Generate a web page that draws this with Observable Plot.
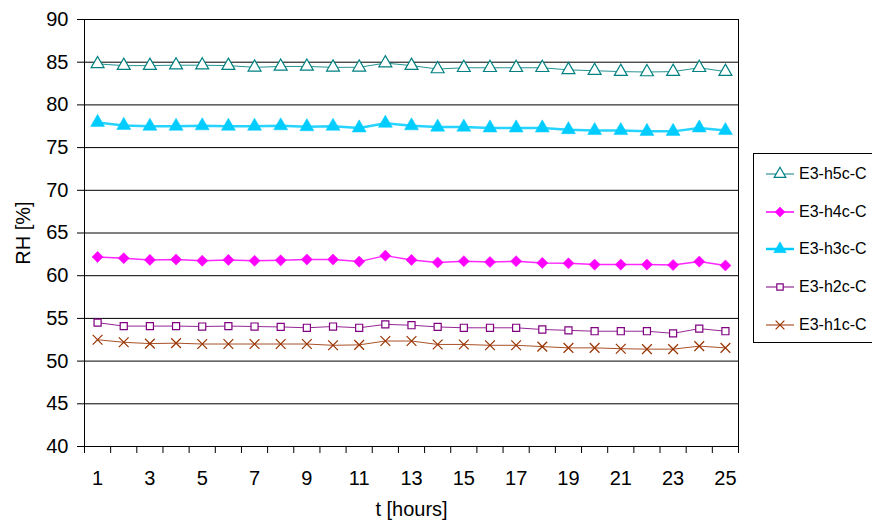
<!DOCTYPE html>
<html>
<head>
<meta charset="utf-8">
<script src="https://cdn.jsdelivr.net/npm/d3@7"></script>
<script src="https://cdn.jsdelivr.net/npm/@observablehq/plot@0.6"></script>
<style>
  html, body { margin: 0; padding: 0; background: #fff; width: 872px; height: 530px; overflow: hidden; }
  #wrap { position: relative; width: 872px; height: 530px; font-family: "Liberation Sans", Arial, sans-serif; }
  #legend { position: absolute; left: 753px; top: 153px; width: 140px; height: 190px; border: 1px solid #000; background: #fff; box-sizing: border-box; }
  .item { position: absolute; left: 12px; height: 20px; display: flex; align-items: center; font-size: 16px; color: #000; white-space: nowrap; }
  .item svg { margin-right: 5px; }
</style>
</head>
<body>
<div id="wrap"><div id="legend"></div></div>
<script>
const hours = [1,2,3,4,5,6,7,8,9,10,11,12,13,14,15,16,17,18,19,20,21,22,23,24,25];
const xTickLabels = [1,3,5,7,9,11,13,15,17,19,21,23,25];
const yTicks = [40,45,50,55,60,65,70,75,80,85,90];

const seriesNames = ["E3-h5c-C","E3-h4c-C","E3-h3c-C","E3-h2c-C","E3-h1c-C"];
const h5 = [84.8,84.6,84.6,84.65,84.65,84.6,84.4,84.5,84.5,84.4,84.4,84.9,84.6,84.2,84.35,84.35,84.35,84.35,84.1,84.0,83.9,83.85,83.9,84.35,83.9];
const h4 = [62.2,62.05,61.85,61.9,61.75,61.85,61.75,61.8,61.9,61.9,61.65,62.35,61.85,61.55,61.7,61.6,61.7,61.5,61.45,61.3,61.3,61.3,61.25,61.65,61.2];
const h3 = [77.95,77.6,77.5,77.5,77.55,77.5,77.5,77.55,77.45,77.5,77.3,77.85,77.55,77.4,77.4,77.3,77.3,77.3,77.1,77.0,77.0,76.9,76.9,77.3,77.0];
const h2 = [54.5,54.1,54.1,54.1,54.05,54.1,54.05,54.0,53.9,54.05,53.9,54.3,54.2,54.0,53.9,53.9,53.9,53.7,53.6,53.5,53.5,53.5,53.25,53.8,53.5];
const h1 = [52.5,52.2,52.05,52.1,52.0,52.0,52.0,52.0,52.0,51.85,51.9,52.35,52.35,51.95,51.95,51.85,51.85,51.7,51.55,51.55,51.45,51.4,51.4,51.75,51.55];

const seriesValues = [h5, h4, h3, h2, h1];
const seriesColors = ["#008080","#FF00FF","#00CCFF","#800080","#993300"];
const seriesSymbols = ["triangle","diamond2","triangle","square2","times"];
const seriesFilled = [false, true, true, false, false];
const seriesLineWidth = [1, 1.5, 2.5, 1, 1];
const seriesR = [4.8, 5, 5.2, 4.5, 4.5];

const edges = hours.map(h => h - 0.5).concat([hours[hours.length-1] + 0.5]);

const marks = [];
marks.push(Plot.ruleY(yTicks, {stroke: "#000", strokeWidth: 1}));
seriesNames.forEach((name, i) => {
  const data = hours.map((t, j) => ({t, v: seriesValues[i][j]}));
  marks.push(Plot.line(data, {x: "t", y: "v", stroke: seriesColors[i], strokeWidth: seriesLineWidth[i], strokeOpacity: 0.85}));
  marks.push(Plot.dot(data, {
    x: "t", y: "v", symbol: () => seriesSymbols[i], r: seriesR[i],
    stroke: seriesColors[i], strokeWidth: seriesFilled[i] ? 0.5 : 1.2,
    fill: seriesFilled[i] ? seriesColors[i] : "white"
  }));
});
marks.push(Plot.frame({stroke: "#000", strokeWidth: 1}));
marks.push(Plot.axisY(yTicks, {tickSize: 7, tickPadding: 9, fontSize: 20, label: null}));
marks.push(Plot.axisX(edges, {tickSize: 7, tickFormat: () => "", label: null}));
marks.push(Plot.axisX(xTickLabels, {tickSize: 0, tickPadding: 24, fontSize: 20, label: null}));
marks.push(Plot.text(["RH [%]"], {frameAnchor: "left", dx: -61, rotate: -90, textAnchor: "middle", lineAnchor: "middle", fontSize: 20, fill: "#000"}));
marks.push(Plot.text(["t [hours]"], {frameAnchor: "bottom", dy: 69, fontSize: 20, fill: "#000"}));

const chart = Plot.plot({
  width: 872,
  height: 530,
  marginLeft: 84,
  marginRight: 134,
  marginTop: 19,
  marginBottom: 84,
  x: {domain: [0.5, 25.5]},
  y: {domain: [40, 90]},
  style: {fontFamily: "Liberation Sans, Arial, sans-serif", fontSize: "20px", color: "#000", background: "white", overflow: "visible"},
  marks
});
document.getElementById("wrap").prepend(chart);

// legend
const legend = document.getElementById("legend");
const tops = [10, 48, 85, 123, 161];
const symMap = {triangle: d3.symbolTriangle, diamond2: d3.symbolDiamond2, square2: d3.symbolSquare2, times: d3.symbolTimes};
seriesNames.forEach((name, i) => {
  const item = document.createElement("div");
  item.className = "item";
  item.style.top = tops[i] + "px";
  const svg = d3.create("svg").attr("width", 28).attr("height", 20);
  svg.append("line").attr("x1", 0).attr("x2", 28).attr("y1", 10).attr("y2", 10)
    .attr("stroke", seriesColors[i]).attr("stroke-width", seriesLineWidth[i]);
  const r = seriesR[i] * 0.9;
  svg.append("path").attr("transform", "translate(14,10)")
    .attr("d", d3.symbol(symMap[seriesSymbols[i]], Math.PI * r * r)())
    .attr("stroke", seriesColors[i]).attr("stroke-width", seriesFilled[i] ? 0.5 : 1.2)
    .attr("fill", seriesFilled[i] ? seriesColors[i] : "white");
  item.appendChild(svg.node());
  const span = document.createElement("span");
  span.textContent = name;
  item.appendChild(span);
  legend.appendChild(item);
});
</script>
</body>
</html>
